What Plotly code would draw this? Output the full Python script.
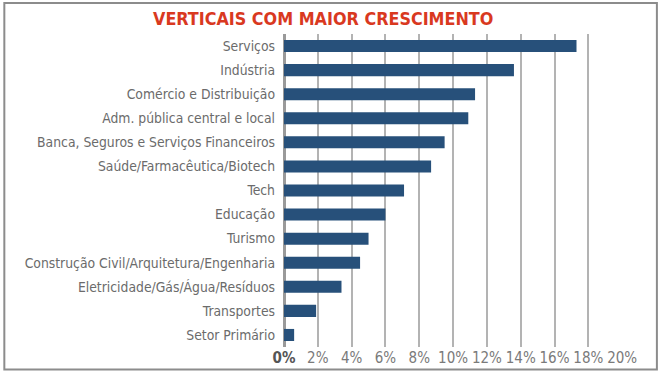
import plotly.graph_objects as go

categories = [
    "Serviços",
    "Indústria",
    "Comércio e Distribuição",
    "Adm. pública central e local",
    "Banca, Seguros e Serviços Financeiros",
    "Saúde/Farmacêutica/Biotech",
    "Tech",
    "Educação",
    "Turismo",
    "Construção Civil/Arquitetura/Engenharia",
    "Eletricidade/Gás/Água/Resíduos",
    "Transportes",
    "Setor Primário",
]
values = [17.3, 13.6, 11.3, 10.9, 9.5, 8.7, 7.1, 6.0, 5.0, 4.5, 3.4, 1.9, 0.6]
tick_vals = [0, 2, 4, 6, 8, 10, 12, 14, 16, 18, 20]
tick_text = ["<b><span style='color:#555555'>0%</span></b>"] + [f"{v}%" for v in tick_vals[1:]]
title_text = "VERTICAIS COM MAIOR CRESCIMENTO"

W, H = 660, 374
ml, mr, mt, mb = 283.5, 36.5, 34, 27
pw, ph = W - ml - mr, H - mt - mb

FONT = "Liberation Sans Narrow, DejaVu Sans Condensed, Roboto Condensed, Arial Narrow, sans-serif"

fig = go.Figure(
    go.Bar(
        x=values,
        y=categories,
        orientation="h",
        marker=dict(color="#27507A", line=dict(width=0)),
        width=0.5,
    )
)

def px_to_paper_x(px):
    return (px - ml) / pw

def px_to_paper_y(py):
    return 1 - (py - mt) / ph

fig.update_layout(
    width=W,
    height=H,
    autosize=False,
    margin=dict(l=ml, r=mr, t=mt, b=mb, autoexpand=False),
    paper_bgcolor="white",
    plot_bgcolor="white",
    showlegend=False,
    font=dict(family=FONT, size=14, color="#6b6b6b"),
    xaxis=dict(
        range=[0, 20.05],
        tickvals=tick_vals,
        ticktext=tick_text,
        showgrid=True,
        gridcolor="#b3b3b3",
        gridwidth=1.5,
        zeroline=True,
        zerolinecolor="#9a9a9a",
        zerolinewidth=3,
        showline=False,
        ticks="",
        automargin=False,
        tickfont=dict(family=FONT, size=15, color="#7a7a7a"),
        fixedrange=True,
    ),
    yaxis=dict(
        autorange="reversed",
        showgrid=False,
        ticks="",
        automargin=False,
        ticklabelstandoff=8,
        tickfont=dict(family=FONT, size=13.8, color="#6b6b6b"),
        fixedrange=True,
    ),
    annotations=[
        dict(
            text=f"<b>{title_text}</b>",
            xref="paper",
            yref="paper",
            x=px_to_paper_x(323),
            y=px_to_paper_y(18),
            xanchor="center",
            yanchor="middle",
            showarrow=False,
            font=dict(family=FONT, size=17.8, color="#D9391F"),
        )
    ],
    shapes=[
        dict(
            type="rect",
            xref="paper",
            yref="paper",
            x0=px_to_paper_x(3),
            x1=px_to_paper_x(657.5),
            y0=px_to_paper_y(369.5),
            y1=px_to_paper_y(3),
            line=dict(color="#8c8c8c", width=2),
            fillcolor="rgba(0,0,0,0)",
            layer="above",
        )
    ],
)

fig.write_html(
    "out.html",
    config={"displayModeBar": False, "responsive": False},
    post_script="document.body.style.margin='0';document.body.style.padding='0';",
)
